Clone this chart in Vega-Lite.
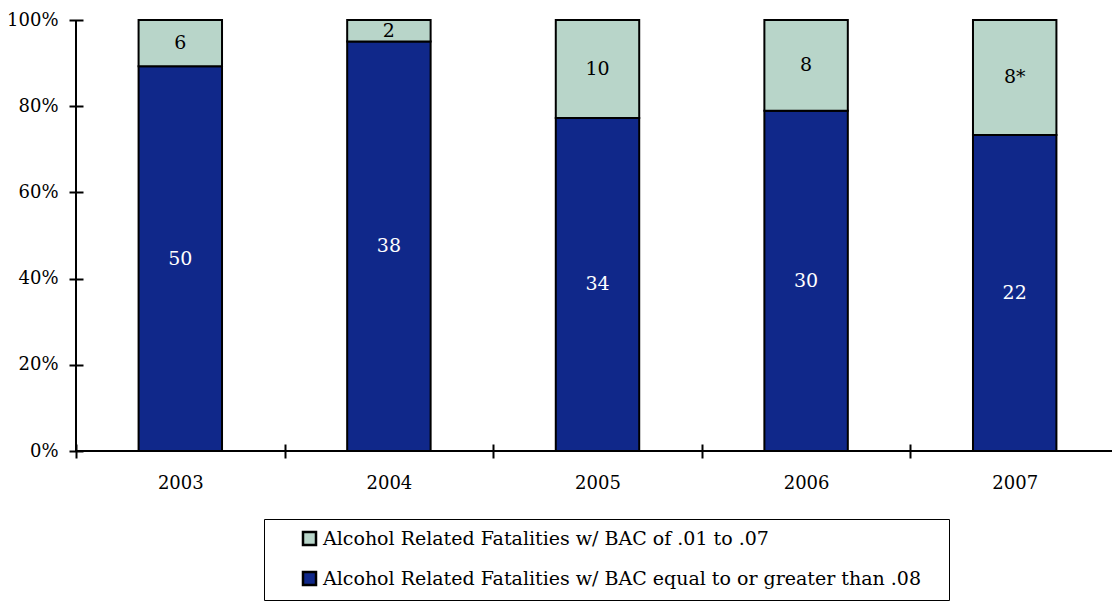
{
  "$schema": "https://vega.github.io/schema/vega-lite/v6.json",
  "autosize": {"type": "none"},
  "padding": {"left": 76, "top": 20, "right": 0, "bottom": 150},
  "width": 1043,
  "height": 431,
  "background": "white",
  "config": {
    "view": {"stroke": null},
    "font": "DejaVu Serif",
    "axis": {"grid": false, "title": null, "domain": false, "tickColor": "black", "tickWidth": 2, "labelFont": "DejaVu Serif", "labelFontSize": 18, "labelColor": "black"}
  },
  "data": {
    "values": [
      {"year": "2003", "series": "Alcohol Related Fatalities w/ BAC equal to or greater than .08", "count": 50, "label": "50"},
      {"year": "2003", "series": "Alcohol Related Fatalities w/ BAC of .01 to .07", "count": 6, "label": "6"},
      {"year": "2004", "series": "Alcohol Related Fatalities w/ BAC equal to or greater than .08", "count": 38, "label": "38"},
      {"year": "2004", "series": "Alcohol Related Fatalities w/ BAC of .01 to .07", "count": 2, "label": "2"},
      {"year": "2005", "series": "Alcohol Related Fatalities w/ BAC equal to or greater than .08", "count": 34, "label": "34"},
      {"year": "2005", "series": "Alcohol Related Fatalities w/ BAC of .01 to .07", "count": 10, "label": "10"},
      {"year": "2006", "series": "Alcohol Related Fatalities w/ BAC equal to or greater than .08", "count": 30, "label": "30"},
      {"year": "2006", "series": "Alcohol Related Fatalities w/ BAC of .01 to .07", "count": 8, "label": "8"},
      {"year": "2007", "series": "Alcohol Related Fatalities w/ BAC equal to or greater than .08", "count": 22, "label": "22"},
      {"year": "2007", "series": "Alcohol Related Fatalities w/ BAC of .01 to .07", "count": 8, "label": "8*"}
    ]
  },
  "transform": [
    {"stack": "count", "groupby": ["year"], "as": ["y0", "y1"], "offset": "normalize", "sort": [{"field": "series", "order": "ascending"}]},
    {"calculate": "(datum.y0 + datum.y1) / 2", "as": "ymid"}
  ],
  "layer": [
    {
      "mark": {"type": "bar", "width": {"band": 0.4}, "stroke": "black", "strokeWidth": 2},
      "encoding": {
        "x": {"field": "year", "type": "ordinal", "scale": {"paddingInner": 0, "paddingOuter": 0},
              "axis": {"orient": "bottom", "labelAngle": 0, "tickBand": "extent", "tickSize": 14, "offset": -7, "labelPadding": 16}},
        "y": {"field": "y0", "type": "quantitative",
              "scale": {"domain": [0, 1]},
              "axis": {"orient": "left", "format": ".0%", "values": [0, 0.2, 0.4, 0.6, 0.8, 1], "tickSize": 14, "offset": -7, "labelPadding": 11}},
        "y2": {"field": "y1"},
        "color": {"field": "series", "type": "nominal",
          "scale": {"domain": ["Alcohol Related Fatalities w/ BAC of .01 to .07", "Alcohol Related Fatalities w/ BAC equal to or greater than .08"], "range": ["#B8D5C9", "#10288A"]},
          "legend": {"title": "\u00a0", "titleOrient": "right", "titlePadding": 18, "titleFontSize": 8, "orient": "none", "legendX": 188, "legendY": 499, "direction": "vertical",
            "strokeColor": "black", "padding": 10, "symbolType": "square", "symbolSize": 169,
            "symbolStrokeColor": "black", "symbolStrokeWidth": 2.5, "symbolOffset": 26,
            "labelFont": "DejaVu Serif", "labelFontSize": 19, "labelColor": "black", "labelOffset": 4, "labelLimit": 0, "rowPadding": 17}}
      }
    },
    {
      "mark": {"type": "text", "fontSize": 19, "baseline": "middle", "align": "center"},
      "encoding": {
        "x": {"field": "year", "type": "ordinal"},
        "y": {"field": "ymid", "type": "quantitative"},
        "text": {"field": "label"},
        "color": {"field": "series", "type": "nominal", "legend": null,
          "scale": {"domain": ["Alcohol Related Fatalities w/ BAC of .01 to .07", "Alcohol Related Fatalities w/ BAC equal to or greater than .08"], "range": ["black", "white"]}}
      }
    },
    {
      "mark": {"type": "rule", "color": "black", "strokeWidth": 2},
      "encoding": {"y": {"datum": 0}}
    },
    {
      "mark": {"type": "rule", "color": "black", "strokeWidth": 2},
      "encoding": {"x": {"datum": "2003", "bandPosition": 0}}
    }
  ],
  "resolve": {"scale": {"color": "independent"}}
}
